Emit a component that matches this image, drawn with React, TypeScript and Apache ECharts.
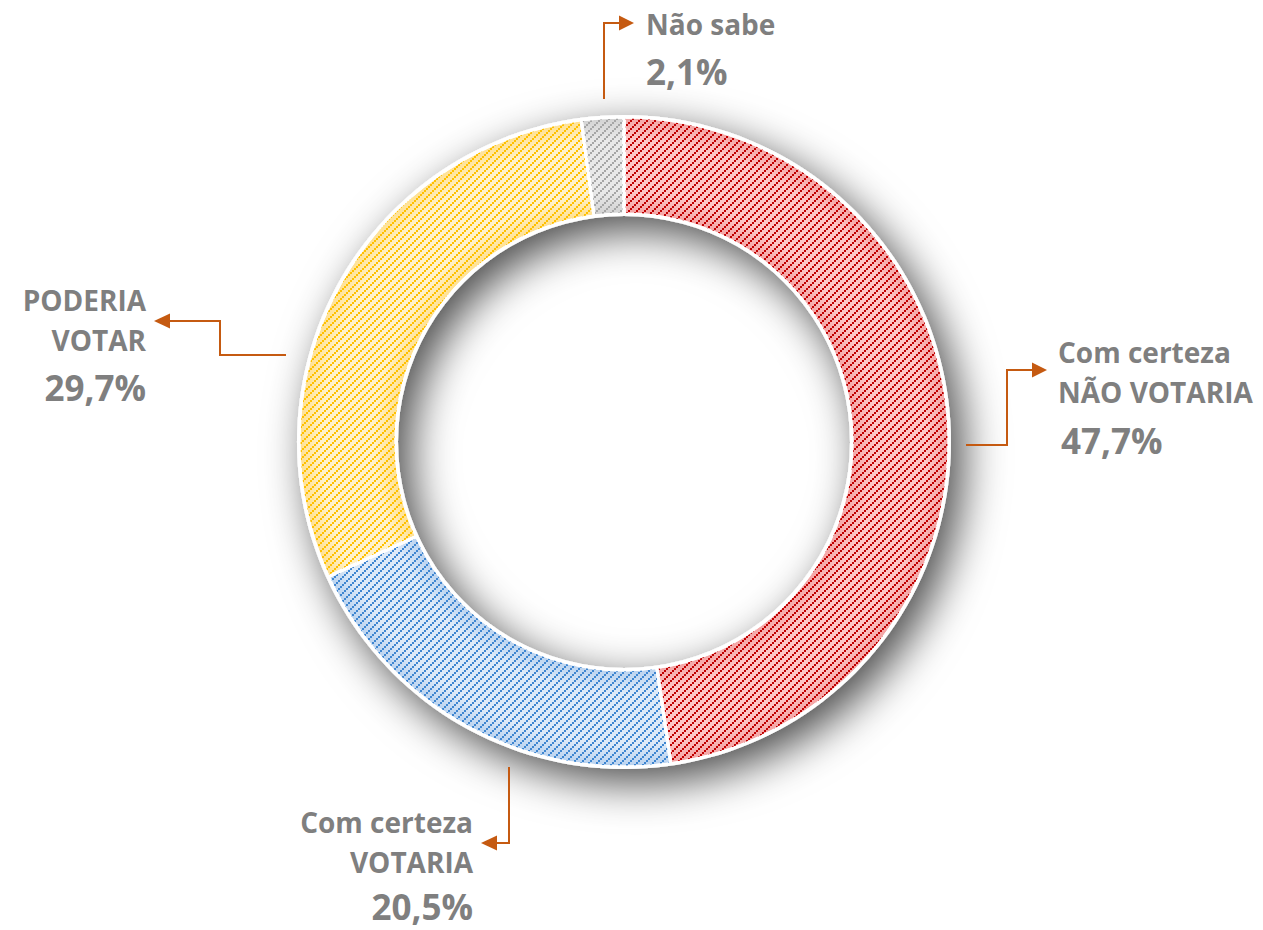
import React, { useEffect, useRef } from "react";
import * as echarts from "echarts";

const categories = ["Com certeza NÃO VOTARIA", "Com certeza VOTARIA", "PODERIA VOTAR", "Não sabe"];
const labelLines = [["Com certeza", "NÃO VOTARIA"], ["Com certeza", "VOTARIA"], ["PODERIA", "VOTAR"], ["Não sabe"]];
const values = [47.7, 20.5, 29.7, 2.1];
const valueLabels = ["47,7%", "20,5%", "29,7%", "2,1%"];

const baseColors = ["#fdc6c6", "#deeaf8", "#fff2cc", "#e9e9e9"];
const edgeColors = ["#f3a3a3", "#b9d2ef", "#ffe08f", "#d2d2d2"];
const dotColors = ["#c00000", "#3f86d0", "#ffc000", "#a6a6a6"];

const labelPos = [
  { x: 1058, y: 332, align: "left", pPad: 19, pLh: 38 },
  { x: 473, y: 802, align: "right", pPad: 18, pLh: 30 },
  { x: 146, y: 280, align: "right", pPad: 16, pLh: 38 },
  { x: 646, y: 4, align: "left", pPad: 16, pLh: 38 },
];

const arrowLines = [
  [[966, 445], [1007, 445], [1007, 370], [1034, 370]],
  [[509, 767], [509, 843], [495, 843]],
  [[286, 355], [220, 355], [220, 321], [168, 321]],
  [[604, 99], [604, 23], [621, 23]],
];
const arrowHeads = [
  [[1047, 370], [1032, 362.5], [1032, 377.5]],
  [[481, 843], [497, 835.5], [497, 850.5]],
  [[154, 321], [170, 313.5], [170, 328.5]],
  [[634, 23], [619, 15.5], [619, 30.5]],
];

const ARROW = "#c55a11";
const TEXT = "#7f7f7f";
const CX = 624;
const CY = 442;
const R_IN = 228;
const R_OUT = 325;

function makeTile(color: string) {
  const c = document.createElement("canvas");
  c.width = 8;
  c.height = 8;
  const ctx = c.getContext("2d")!;
  ctx.fillStyle = color;
  [[0, 6], [2, 4], [4, 2], [6, 0]].forEach(([x, y]) => ctx.fillRect(x, y, 2, 2));
  return c;
}

export default function App() {
  const ref = useRef<HTMLDivElement>(null);
  useEffect(() => {
    const chart = echarts.init(ref.current!, null, { renderer: "svg" });
    const font = "'Open Sans', Lato, sans-serif";
    const rich: any = {};
    labelPos.forEach((lp, i) => {
      rich["n" + i] = { fontFamily: font, fontWeight: "bold", fontSize: 28, lineHeight: 40, color: TEXT, align: lp.align };
      rich["p" + i] = {
        fontFamily: font,
        fontWeight: "bold",
        fontSize: 35,
        lineHeight: lp.pLh,
        padding: [lp.pPad, 0, 0, lp.align === "left" && i === 0 ? 3 : 0],
        color: TEXT,
        align: lp.align,
      };
    });
    const graphics: any[] = [];
    arrowLines.forEach((pts, i) => {
      graphics.push({
        type: "polyline",
        shape: { points: pts },
        style: { stroke: ARROW, lineWidth: 2, fill: null },
        z: 10,
      });
      graphics.push({
        type: "polygon",
        shape: { points: arrowHeads[i] },
        style: { fill: ARROW },
        z: 10,
      });
    });
    const inner = R_IN / R_OUT;
    const grad = (i: number) => ({
      type: "radial",
      x: CX,
      y: CY,
      r: R_OUT,
      global: true,
      colorStops: [
        { offset: 0, color: edgeColors[i] },
        { offset: inner, color: edgeColors[i] },
        { offset: inner + 0.07, color: baseColors[i] },
        { offset: 0.93, color: baseColors[i] },
        { offset: 1, color: edgeColors[i] },
      ],
    });
    const common = {
      type: "pie",
      center: [CX, CY],
      radius: [R_IN, R_OUT],
      startAngle: 90,
      clockwise: true,
      itemStyle: { borderColor: "#ffffff", borderWidth: 3 },
      labelLine: { show: false },
    };
    chart.setOption({
      animation: false,
      backgroundColor: "#ffffff",
      graphic: graphics,
      series: [
        {
          type: "pie",
          silent: true,
          center: [CX, CY],
          radius: [R_IN - 2, R_OUT + 2],
          startAngle: 90,
          label: { show: false },
          labelLine: { show: false },
          data: [{ value: 1, itemStyle: { color: "#ffffff" } }],
          itemStyle: {
            shadowBlur: 44,
            shadowOffsetX: 12,
            shadowOffsetY: 14,
            shadowColor: "rgba(0,0,0,0.7)",
          },
          z: 1,
        },
        {
          ...common,
          silent: true,
          z: 2,
          label: { show: false },
          data: categories.map((c, i) => ({ name: c, value: values[i], itemStyle: { color: grad(i) } })),
        },
        {
          ...common,
          z: 3,
          label: {
            show: true,
            position: "outside",
            formatter: (p: any) => {
              const i = p.dataIndex;
              return labelLines[i].map((l) => `{n${i}|${l}}`).join("\n") + `\n{p${i}|${valueLabels[i]}}`;
            },
            rich,
          },
          labelLayout: (params: any) => {
            const lp = labelPos[params.dataIndex];
            return { x: lp.x, y: lp.y, align: lp.align, verticalAlign: "top" };
          },
          data: categories.map((c, i) => ({
            name: c,
            value: values[i],
            itemStyle: { color: { image: makeTile(dotColors[i]), repeat: "repeat" } },
          })),
        },
      ],
    });
    return () => chart.dispose();
  }, []);
  return <div ref={ref} style={{ position: "absolute", left: 0, top: 0, width: 1263, height: 930 }} />;
}
